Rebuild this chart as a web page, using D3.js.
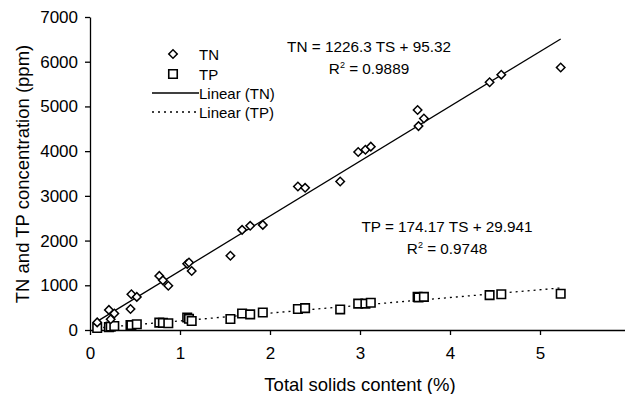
<!DOCTYPE html>
<html>
<head>
<meta charset="utf-8">
<script src="https://cdn.jsdelivr.net/npm/d3@7"></script>
<style>
    body { margin: 0; background: #fff; }
    text { font-family: "Liberation Sans", Arial, Helvetica, sans-serif; fill: #000; }
    .axis path, .axis line { stroke: #000; stroke-width: 1.3; }
    .axis text { font-size: 17px; }
</style>
</head>
<body>
<div id="chart"></div>
<script>
// total solids (%) for each sample
const totalSolids = [0.08, 0.21, 0.23, 0.27, 0.45, 0.46, 0.52, 0.77, 0.81, 0.87,
    1.08, 1.10, 1.13, 1.56, 1.69, 1.78, 1.92, 2.31, 2.39, 2.78,
    2.98, 3.06, 3.12, 3.64, 3.65, 3.71, 4.44, 4.57, 5.23];
// TN (ppm)
const tnValues = [170, 450, 240, 370, 470, 800, 740, 1210, 1110, 990,
    1480, 1510, 1320, 1660, 2240, 2330, 2350, 3210, 3180, 3320,
    3980, 4030, 4100, 4920, 4560, 4730, 5540, 5710, 5870];
// TP (ppm)
const tpValues = [45, 65, 75, 90, 110, 110, 130, 165, 160, 150,
    280, 250, 200, 245, 370, 350, 390, 470, 490, 460,
    590, 590, 610, 740, 730, 740, 780, 800, 810];

// regression results printed on the chart
const tnFit = {slope: 1226.3, intercept: 95.32};
const tpFit = {slope: 174.17, intercept: 29.941};

const xTicks = [0, 1, 2, 3, 4, 5];
const yTicks = [0, 1000, 2000, 3000, 4000, 5000, 6000, 7000];

const width = 625, height = 394;

const svg = d3.select("#chart").append("svg")
    .attr("width", width)
    .attr("height", height);

// Scales and axes
const x = d3.scaleLinear().domain([0, 6]).range([90, 630]);
const y = d3.scaleLinear().domain([0, 7000]).range([330, 17]);

svg.append("g")
    .attr("class", "x-axis axis")
    .attr("transform", "translate(0," + y(0) + ")")
    .call(d3.axisBottom(x).tickValues(xTicks).tickSize(5).tickSizeOuter(0).tickPadding(12)
        .tickFormat(d3.format("d")));

svg.append("g")
    .attr("class", "y-axis axis")
    .attr("transform", "translate(" + x(0) + ",0)")
    .call(d3.axisLeft(y).tickValues(yTicks).tickSize(5).tickSizeOuter(0).tickPadding(7)
        .tickFormat(d3.format("d")));

svg.selectAll(".axis .domain").attr("fill", "none");

// Axis titles
svg.append("text")
    .attr("x", 360)
    .attr("y", 391)
    .attr("text-anchor", "middle")
    .style("font-size", "18.5px")
    .text("Total solids content (%)");

svg.append("text")
    .attr("transform", "translate(29,174) rotate(-90)")
    .attr("text-anchor", "middle")
    .style("font-size", "18.5px")
    .text("TN and TP concentration (ppm)");

// trend lines over the range of the data
const tsExtent = d3.extent(totalSolids);
const line = d3.line().x(d => x(d[0])).y(d => y(d[1]));

svg.append("path")
    .datum(tsExtent.map(t => [t, tnFit.slope * t + tnFit.intercept]))
    .attr("d", line)
    .attr("fill", "none")
    .attr("stroke", "#000")
    .attr("stroke-width", 1.3);

svg.append("path")
    .datum(tsExtent.map(t => [t, tpFit.slope * t + tpFit.intercept]))
    .attr("d", line)
    .attr("fill", "none")
    .attr("stroke", "#000")
    .attr("stroke-width", 1.3)
    .attr("stroke-dasharray", "2,4");

// markers
const diamond = d3.symbol().type(d3.symbolSquare).size(36);
const square = d3.symbol().type(d3.symbolSquare).size(72);

svg.append("g").selectAll("path")
    .data(totalSolids.map((t, i) => [t, tpValues[i]]))
    .join("path")
    .attr("d", square)
    .attr("transform", d => "translate(" + x(d[0]) + "," + y(d[1]) + ")")
    .attr("fill", "#fff")
    .attr("stroke", "#000")
    .attr("stroke-width", 1.6);

svg.append("g").selectAll("path")
    .data(totalSolids.map((t, i) => [t, tnValues[i]]))
    .join("path")
    .attr("d", diamond)
    .attr("transform", d => "translate(" + x(d[0]) + "," + y(d[1]) + ") rotate(45)")
    .attr("fill", "#fff")
    .attr("stroke", "#000")
    .attr("stroke-width", 1.5);

// legend
const legend = svg.append("g").style("font-size", "15px");
const legendItems = ["TN", "TP", "Linear (TN)", "Linear (TP)"];
const legendY = [54, 74, 93, 112];

legend.append("path").attr("d", diamond)
    .attr("transform", "translate(173," + legendY[0] + ") rotate(45)")
    .attr("fill", "#fff").attr("stroke", "#000").attr("stroke-width", 1.5);
legend.append("path").attr("d", square)
    .attr("transform", "translate(173," + legendY[1] + ")")
    .attr("fill", "#fff").attr("stroke", "#000").attr("stroke-width", 1.6);
legend.append("line")
    .attr("x1", 152).attr("x2", 199).attr("y1", legendY[2]).attr("y2", legendY[2])
    .attr("stroke", "#000").attr("stroke-width", 1.3);
legend.append("line")
    .attr("x1", 152).attr("x2", 199).attr("y1", legendY[3]).attr("y2", legendY[3])
    .attr("stroke", "#000").attr("stroke-width", 1.3).attr("stroke-dasharray", "2,4");

legend.selectAll("text")
    .data(legendItems)
    .join("text")
    .attr("x", 199)
    .attr("y", (d, i) => legendY[i] + 5.5)
    .text(d => d);

// equations
function equation(cx, by, eq, r2) {
    const g = svg.append("g").style("font-size", "15.3px").attr("text-anchor", "middle");
    g.append("text").attr("x", cx).attr("y", by).text(eq);
    const t = g.append("text").attr("x", cx).attr("y", by + 21.5);
    t.append("tspan").text("R");
    t.append("tspan").attr("dy", -6).style("font-size", "9px").text("2");
    t.append("tspan").attr("dy", 6).text(" = " + r2);
}

equation(369, 52, "TN = " + tnFit.slope + " TS + " + tnFit.intercept, "0.9889");
equation(447, 232, "TP = " + tpFit.slope + " TS + " + tpFit.intercept, "0.9748");
</script>
</body>
</html>
